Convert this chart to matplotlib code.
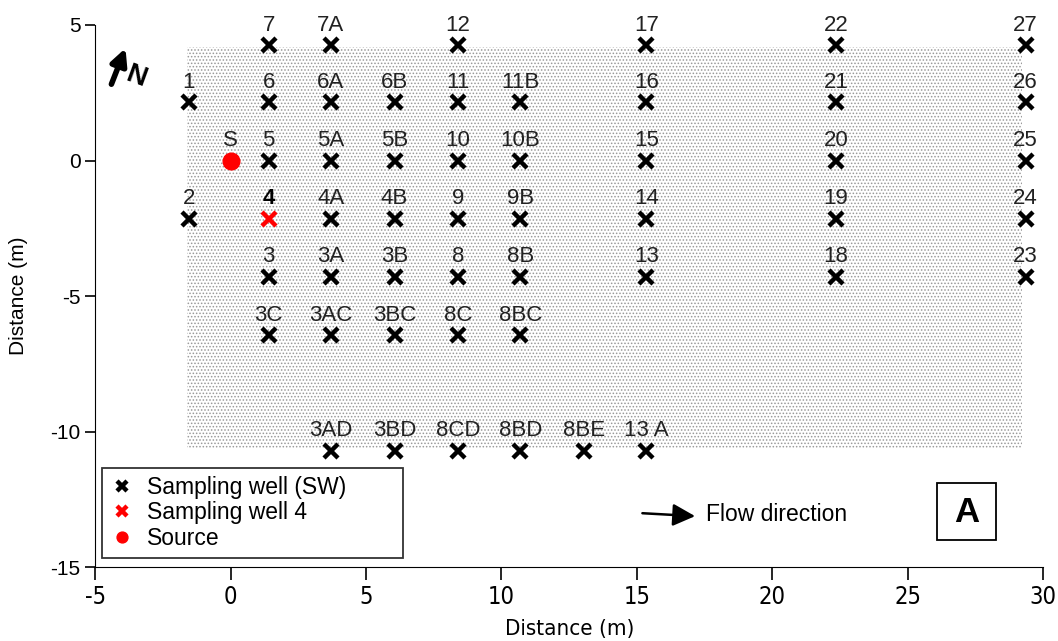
import matplotlib.pyplot as plt
from matplotlib.patches import Rectangle

plt.rcParams['font.family'] = ['Liberation Sans', 'DejaVu Sans']
plt.rcParams['axes.unicode_minus'] = False
plt.rcParams['hatch.linewidth'] = 0.7

# sampling wells (label, x, y) in metres
well_labels = ["7", "7A", "12", "17", "22", "27",
               "1", "6", "6A", "6B", "11", "11B", "16", "21", "26",
               "5", "5A", "5B", "10", "10B", "15", "20", "25",
               "2", "4A", "4B", "9", "9B", "14", "19", "24",
               "3", "3A", "3B", "8", "8B", "13", "18", "23",
               "3C", "3AC", "3BC", "8C", "8BC",
               "3AD", "3BD", "8CD", "8BD", "8BE", "13 A"]
well_x = [1.4, 3.7, 8.4, 15.35, 22.35, 29.35,
          -1.55, 1.4, 3.7, 6.05, 8.4, 10.7, 15.35, 22.35, 29.35,
          1.4, 3.7, 6.05, 8.4, 10.7, 15.35, 22.35, 29.35,
          -1.55, 3.7, 6.05, 8.4, 10.7, 15.35, 22.35, 29.35,
          1.4, 3.7, 6.05, 8.4, 10.7, 15.35, 22.35, 29.35,
          1.4, 3.7, 6.05, 8.4, 10.7,
          3.7, 6.05, 8.4, 10.7, 13.05, 15.35]
well_y = [4.25] * 6 + [2.15] * 9 + [0.0] * 8 + [-2.15] * 8 + [-4.3] * 8 \
    + [-6.45] * 5 + [-10.7] * 6

well4_x, well4_y = 1.4, -2.15
source_x, source_y = 0.0, 0.0

# area covered by the well field (shaded)
area_x0, area_x1 = -1.6, 29.2
area_y0, area_y1 = -10.6, 4.2

fig, ax = plt.subplots(figsize=(10.58, 6.41), dpi=100)
fig.subplots_adjust(left=0.09, right=0.986, top=0.961, bottom=0.115)

ax.add_patch(Rectangle((area_x0, area_y0), area_x1 - area_x0, area_y1 - area_y0,
                       facecolor="white", edgecolor="#999999", hatch=".....",
                       linewidth=0, zorder=0))

ax.plot(well_x, well_y, "x", color="black", markersize=10, mew=3.2, linestyle="none",
        label="Sampling well (SW)")
ax.plot(well4_x, well4_y, "x", color="red", markersize=10, mew=3.2, linestyle="none",
        label="Sampling well 4")
ax.plot(source_x, source_y, "o", color="red", markersize=12, linestyle="none",
        label="Source")

for lab, x, y in zip(well_labels, well_x, well_y):
    ax.annotate(lab, (x, y), xytext=(0, 7), textcoords="offset points",
                ha="center", va="bottom", fontsize=16, color="#222222")
ax.annotate("4", (well4_x, well4_y), xytext=(0, 7), textcoords="offset points",
            ha="center", va="bottom", fontsize=16, fontweight="bold")
ax.annotate("S", (source_x, source_y), xytext=(0, 7), textcoords="offset points",
            ha="center", va="bottom", fontsize=16, color="#222222")

# north arrow
ax.annotate("", xy=(0.033, 0.962), xytext=(0.016, 0.886), xycoords="axes fraction",
            arrowprops=dict(arrowstyle="-|>", color="black", lw=4, mutation_scale=24))
ax.text(0.043, 0.905, "N", transform=ax.transAxes, fontsize=20, fontweight="bold",
        rotation=-20, ha="center", va="center")

# flow direction
ax.annotate("", xy=(17.25, -13.12), xytext=(15.1, -13.0),
            arrowprops=dict(arrowstyle="-|>", color="black", lw=1.8, mutation_scale=34))
ax.text(17.55, -13.05, "Flow direction", fontsize=16.5, va="center", ha="left")

# panel letter
ax.add_patch(Rectangle((26.08, -14.0), 2.18, 2.1, facecolor="white",
                       edgecolor="black", lw=1.3, zorder=3))
ax.text(27.17, -12.97, "A", fontsize=25, fontweight="bold", ha="center",
        va="center", zorder=4)

ax.set_xlim(-5, 30)
ax.set_ylim(-15, 5)
ax.set_xticks(range(-5, 31, 5))
ax.set_yticks([-15, -10, -5, 0, 5])
ax.spines["top"].set_visible(False)
ax.spines["right"].set_visible(False)
ax.tick_params(axis="x", direction="out", length=9, width=1.2, labelsize=17, pad=4)
ax.tick_params(axis="y", direction="out", length=7, width=1.2, labelsize=15)
for t in ax.get_xticklabels():
    t.set_fontfamily("DejaVu Sans")
    t.set_fontstretch("condensed")
ax.set_xlabel("Distance (m)", fontsize=16, family="DejaVu Sans",
              fontstretch="condensed", labelpad=7)
ax.set_ylabel("Distance (m)", fontsize=15, labelpad=16)

leg = ax.legend(loc="lower left", bbox_to_anchor=(0.0074, 0.017, 0.3175, 0.2),
                mode="expand", fontsize=16.5, frameon=True, fancybox=False,
                edgecolor="black", handlelength=1, handletextpad=0.6,
                borderpad=0.35, labelspacing=0.12, markerscale=0.65,
                borderaxespad=0)
leg.get_frame().set_linewidth(1.3)

fig.savefig("out.png")
